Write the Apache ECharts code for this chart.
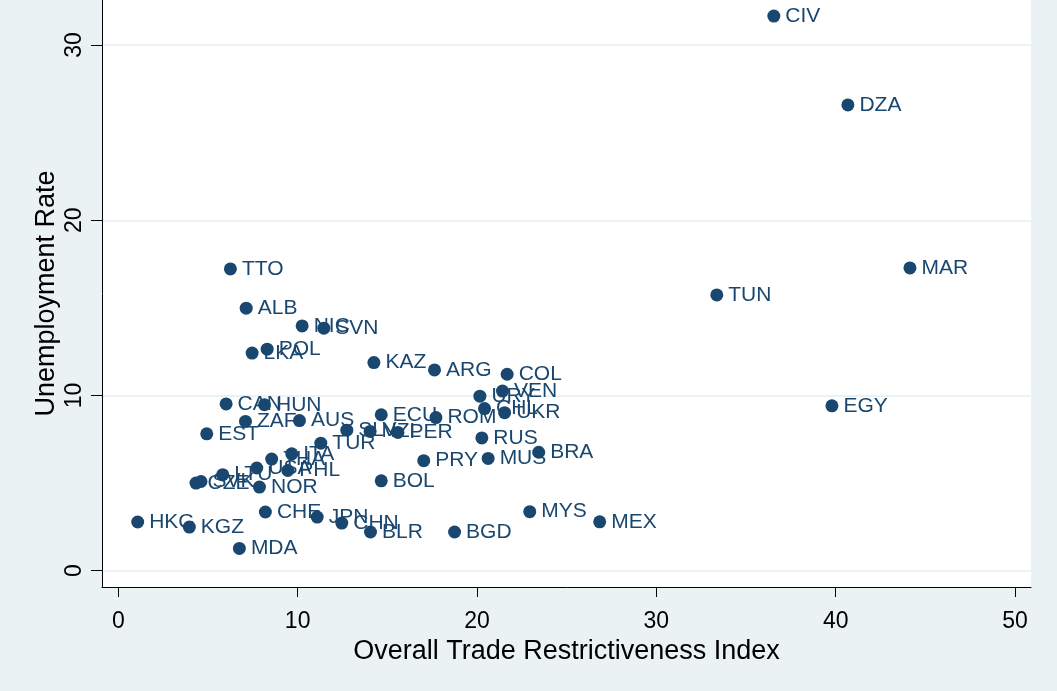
<!DOCTYPE html>
<html>
<head>
<meta charset="utf-8">
<script src="https://cdn.jsdelivr.net/npm/echarts@6/dist/echarts.min.js"></script>
<style>
  html, body { margin: 0; padding: 0; background: #eaf2f3; }
  #chart { width: 1057px; height: 691px; }
</style>
</head>
<body>
<div id="chart"></div>
<script>
// country codes, trade restrictiveness (x) and unemployment rate (y)
const countries = ['CIV', 'DZA', 'MAR', 'TUN', 'EGY', 'MEX', 'MYS', 'BGD', 'BRA', 'MUS',
  'RUS', 'PRY', 'BOL', 'BLR', 'CHN', 'JPN', 'CHE', 'MDA', 'KGZ', 'HKG',
  'CZE', 'SVK', 'LTU', 'USA', 'PHL', 'NOR', 'THA', 'ITA', 'TUR', 'EST',
  'CAN', 'HUN', 'ZAF', 'AUS', 'SLV', 'NZL', 'PER', 'ECU', 'ROM', 'URY',
  'CHL', 'UKR', 'VEN', 'COL', 'ARG', 'KAZ', 'LKA', 'POL', 'NIC', 'SVN',
  'ALB', 'TTO']
const otri = [36.55, 40.68, 44.14, 33.37, 39.79, 26.84, 22.94, 18.75, 23.44, 20.62,
  20.27, 17.03, 14.66, 14.06, 12.46, 11.09, 8.2, 6.75, 3.96, 1.08,
  4.33, 4.61, 5.82, 7.72, 9.45, 7.87, 8.55, 9.67, 11.29, 4.93,
  6.01, 8.15, 7.09, 10.1, 12.74, 14.04, 15.59, 14.66, 17.71, 20.16,
  20.42, 21.54, 21.42, 21.68, 17.63, 14.25, 7.46, 8.3, 10.25, 11.46,
  7.13, 6.25]
const unemp = [31.65, 26.58, 17.28, 15.74, 9.41, 2.79, 3.37, 2.21, 6.76, 6.41,
  7.58, 6.28, 5.13, 2.21, 2.72, 3.06, 3.35, 1.27, 2.49, 2.78,
  5.0, 5.09, 5.48, 5.86, 5.72, 4.77, 6.37, 6.67, 7.28, 7.81,
  9.52, 9.47, 8.52, 8.57, 8.02, 7.95, 7.89, 8.9, 8.74, 9.96,
  9.25, 9.02, 10.25, 11.21, 11.46, 11.88, 12.42, 12.64, 13.97, 13.84,
  14.98, 17.22]
const xTicks = [0, 10, 20, 30, 40, 50]
const yTicks = [0, 10, 20, 30]

const navy = '#1a476f'
const font = 'Liberation Sans, Arial, sans-serif'

const chart = echarts.init(document.getElementById('chart'))
chart.setOption({
  backgroundColor: '#eaf2f3',
  animation: false,
  grid: {
    left: 102,
    right: 26,
    top: 0,
    bottom: 104,
    show: true,
    backgroundColor: '#fff',
    borderWidth: 0
  },
  xAxis: {
    type: 'value',
    min: -0.91,
    max: 50.89,
    name: 'Overall Trade Restrictiveness Index',
    nameLocation: 'middle',
    nameGap: 43,
    nameTextStyle: { color: '#000', fontSize: 27, fontFamily: font },
    axisLine: { onZero: false, lineStyle: { color: '#000', width: 1 } },
    axisTick: { length: 10, customValues: xTicks, lineStyle: { color: '#000' } },
    axisLabel: { customValues: xTicks, margin: 23, color: '#000', fontSize: 23, fontFamily: font },
    splitLine: { show: false }
  },
  yAxis: {
    type: 'value',
    min: -0.93,
    max: 32.57,
    name: 'Unemployment Rate',
    nameLocation: 'middle',
    nameRotate: 90,
    nameGap: 42,
    nameMoveOverlap: false,
    nameTextStyle: { color: '#000', fontSize: 27, fontFamily: font },
    axisLine: { show: true, onZero: false, lineStyle: { color: '#000', width: 1 } },
    axisTick: { show: true, length: 11, customValues: yTicks, lineStyle: { color: '#000' } },
    axisLabel: { customValues: yTicks, rotate: 90, margin: 16, color: '#000', fontSize: 23, fontFamily: font },
    splitLine: { show: true, lineStyle: { color: '#eaf2f3', width: 2 } }
  },
  series: [
    {
      type: 'scatter',
      symbol: 'circle',
      symbolSize: 13,
      itemStyle: { color: navy, opacity: 1 },
      label: {
        show: true,
        position: 'right',
        distance: 5,
        color: navy,
        fontSize: 21,
        fontFamily: font,
        formatter: p => p.value[2]
      },
      data: countries.map((c, i) => [otri[i], unemp[i], c])
    }
  ]
})
</script>
</body>
</html>
